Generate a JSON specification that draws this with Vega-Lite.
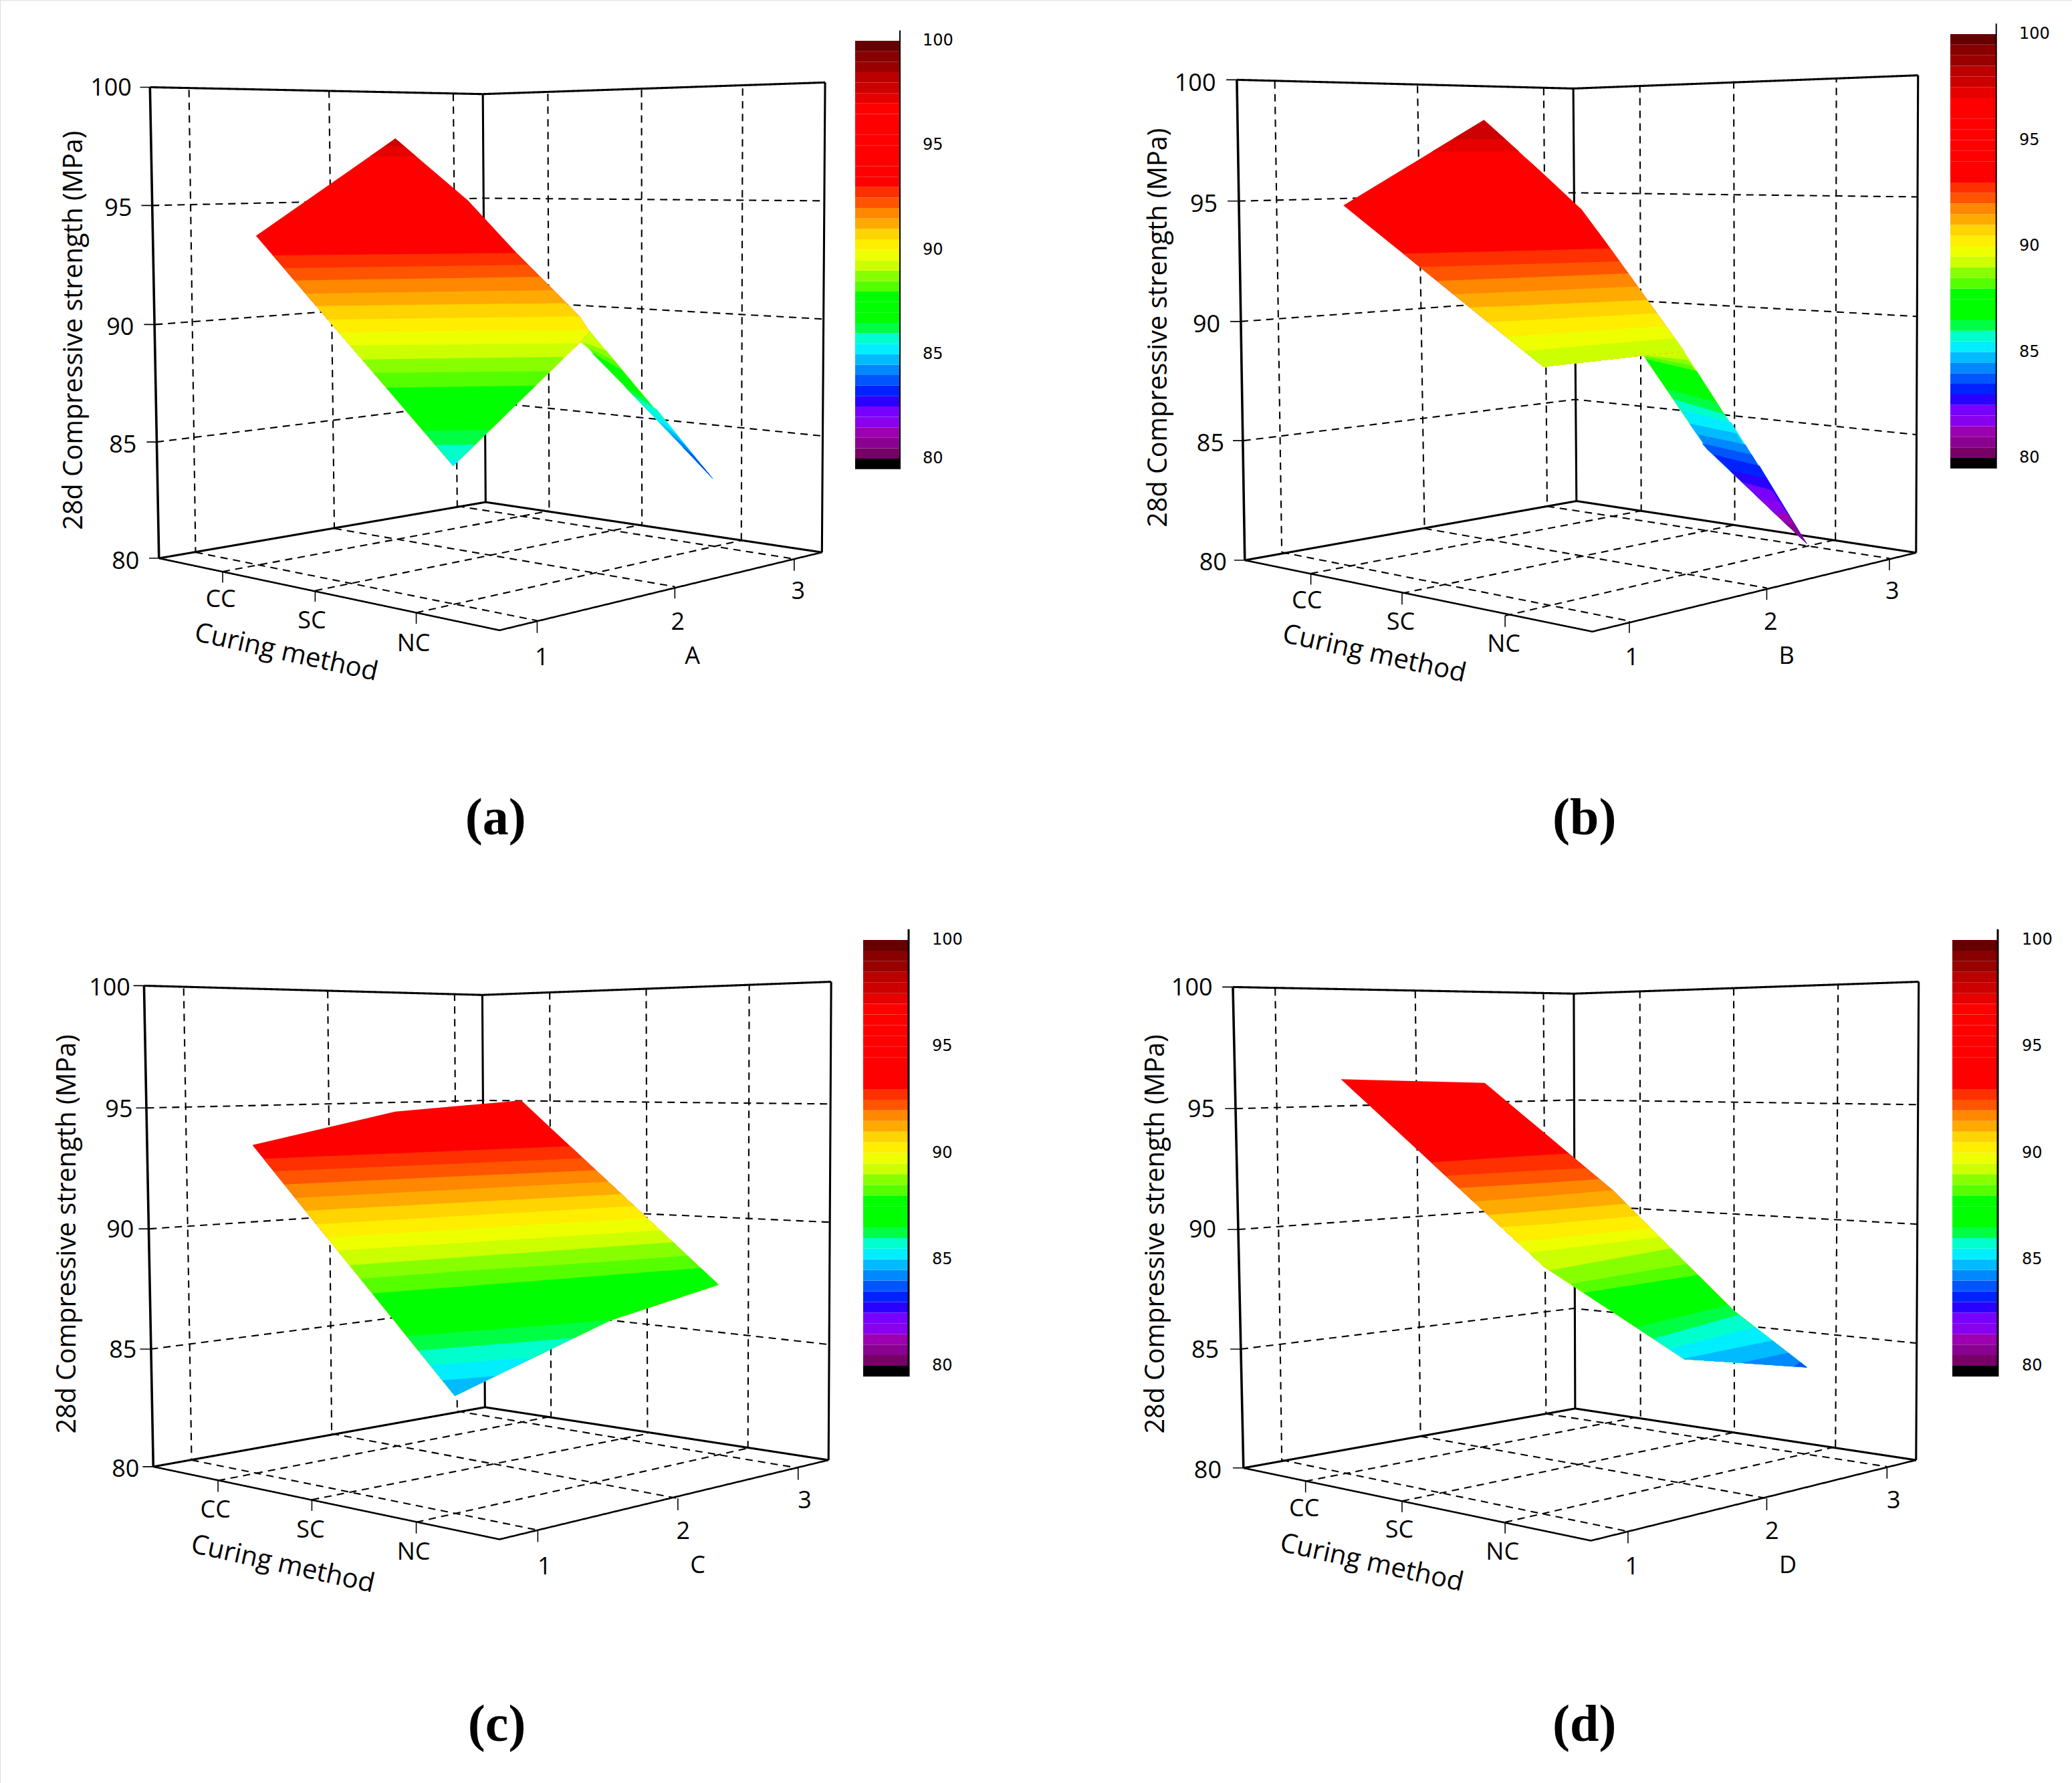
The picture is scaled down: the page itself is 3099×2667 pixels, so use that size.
{"$schema":"https://vega.github.io/schema/vega-lite/v6.json","width":3099,"height":2667,"padding":0,"autosize":{"type":"none"},"background":"white",
"datasets":{
"lines":[
{"g":"a1","k":"axis","x":113.5,"y":66},{"g":"a1","k":"axis","x":120.3,"y":422.5},
{"g":"a2","k":"edge","x":113.5,"y":66},{"g":"a2","k":"edge","x":365.4,"y":71.2},{"g":"a2","k":"edge","x":624.4,"y":62.4},
{"g":"a3","k":"edge","x":622,"y":418},{"g":"a3","k":"edge","x":624.4,"y":62.4},
{"g":"a4","k":"edge","x":365.4,"y":71.2},{"g":"a4","k":"edge","x":367.5,"y":380},
{"g":"a5","k":"edge","x":120.3,"y":422.5},{"g":"a5","k":"edge","x":367.5,"y":380},{"g":"a5","k":"edge","x":622,"y":418},
{"g":"a6","k":"front","x":120.3,"y":422.5},{"g":"a6","k":"front","x":378,"y":477},{"g":"a6","k":"front","x":622,"y":418},
{"g":"a7","k":"grid","x":143,"y":68},{"g":"a7","k":"grid","x":148,"y":418},
{"g":"a8","k":"grid","x":249,"y":68.5},{"g":"a8","k":"grid","x":253,"y":400},
{"g":"a9","k":"grid","x":343,"y":71},{"g":"a9","k":"grid","x":346,"y":383},
{"g":"a10","k":"grid","x":414.6,"y":71},{"g":"a10","k":"grid","x":415.6,"y":386.7},
{"g":"a11","k":"grid","x":485.5,"y":68},{"g":"a11","k":"grid","x":485.8,"y":397},
{"g":"a12","k":"grid","x":561,"y":409},{"g":"a12","k":"grid","x":562,"y":65},
{"g":"a13","k":"grid","x":115,"y":155.5},{"g":"a13","k":"grid","x":366,"y":150},{"g":"a13","k":"grid","x":624,"y":152},
{"g":"a14","k":"grid","x":117.5,"y":245.6},{"g":"a14","k":"grid","x":365.5,"y":227},{"g":"a14","k":"grid","x":623.5,"y":241.5},
{"g":"a15","k":"grid","x":118.5,"y":334.5},{"g":"a15","k":"grid","x":366,"y":304},{"g":"a15","k":"grid","x":623,"y":330},
{"g":"a16","k":"grid","x":168.5,"y":432.6},{"g":"a16","k":"grid","x":415.6,"y":386.7},
{"g":"a17","k":"grid","x":238.5,"y":447},{"g":"a17","k":"grid","x":485.8,"y":397},
{"g":"a18","k":"grid","x":315,"y":463.7},{"g":"a18","k":"grid","x":561,"y":409},
{"g":"a19","k":"grid","x":148,"y":418},{"g":"a19","k":"grid","x":406.5,"y":469.7},
{"g":"a20","k":"grid","x":253,"y":400},{"g":"a20","k":"grid","x":510.7,"y":444},
{"g":"a21","k":"grid","x":346,"y":383},{"g":"a21","k":"grid","x":601,"y":423},
{"g":"a22","k":"tick","x":106,"y":66},{"g":"a22","k":"tick","x":113.5,"y":66},
{"g":"a23","k":"tick","x":107,"y":155.5},{"g":"a23","k":"tick","x":115,"y":155.5},
{"g":"a24","k":"tick","x":109,"y":245.6},{"g":"a24","k":"tick","x":117.5,"y":245.6},
{"g":"a25","k":"tick","x":111,"y":334.5},{"g":"a25","k":"tick","x":118.5,"y":334.5},
{"g":"a26","k":"tick","x":112.8,"y":422.5},{"g":"a26","k":"tick","x":120.3,"y":422.5},
{"g":"a27","k":"tick","x":168.5,"y":432.6},{"g":"a27","k":"tick","x":168.5,"y":441},
{"g":"a28","k":"tick","x":238.5,"y":447},{"g":"a28","k":"tick","x":238.5,"y":455.4},
{"g":"a29","k":"tick","x":315,"y":463.7},{"g":"a29","k":"tick","x":315,"y":472},
{"g":"a30","k":"tick","x":406.5,"y":469.7},{"g":"a30","k":"tick","x":406.5,"y":479},
{"g":"a31","k":"tick","x":510.7,"y":444},{"g":"a31","k":"tick","x":510.7,"y":453},
{"g":"a32","k":"tick","x":601,"y":423},{"g":"a32","k":"tick","x":601,"y":432},
{"g":"b1","k":"axis","x":936,"y":60.4},{"g":"b1","k":"axis","x":942,"y":424},
{"g":"b2","k":"edge","x":936,"y":60.4},{"g":"b2","k":"edge","x":1190.6,"y":67},{"g":"b2","k":"edge","x":1451.5,"y":57},
{"g":"b3","k":"edge","x":1450,"y":418.3},{"g":"b3","k":"edge","x":1451.5,"y":57},
{"g":"b4","k":"edge","x":1190.6,"y":67},{"g":"b4","k":"edge","x":1193,"y":379.2},
{"g":"b5","k":"edge","x":942,"y":424},{"g":"b5","k":"edge","x":1193,"y":379.2},{"g":"b5","k":"edge","x":1450,"y":418.3},
{"g":"b6","k":"front","x":942,"y":424},{"g":"b6","k":"front","x":1205,"y":478},{"g":"b6","k":"front","x":1450,"y":418.3},
{"g":"b7","k":"grid","x":964.7,"y":61.6},{"g":"b7","k":"grid","x":970,"y":418},
{"g":"b8","k":"grid","x":1072.7,"y":65},{"g":"b8","k":"grid","x":1078,"y":400},
{"g":"b9","k":"grid","x":1168.2,"y":66.6},{"g":"b9","k":"grid","x":1170.8,"y":383.2},
{"g":"b10","k":"grid","x":1241,"y":64.5},{"g":"b10","k":"grid","x":1242,"y":386.6},
{"g":"b11","k":"grid","x":1312,"y":61.5},{"g":"b11","k":"grid","x":1312.8,"y":397.2},
{"g":"b12","k":"grid","x":1389,"y":408.5},{"g":"b12","k":"grid","x":1389.7,"y":59},
{"g":"b13","k":"grid","x":937,"y":152.2},{"g":"b13","k":"grid","x":1190.6,"y":145.9},{"g":"b13","k":"grid","x":1451,"y":149},
{"g":"b14","k":"grid","x":939,"y":243.3},{"g":"b14","k":"grid","x":1191,"y":225},{"g":"b14","k":"grid","x":1451,"y":239.5},
{"g":"b15","k":"grid","x":941,"y":333.5},{"g":"b15","k":"grid","x":1192,"y":302.3},{"g":"b15","k":"grid","x":1450.5,"y":329},
{"g":"b16","k":"grid","x":992,"y":434},{"g":"b16","k":"grid","x":1242,"y":386.6},
{"g":"b17","k":"grid","x":1061,"y":449},{"g":"b17","k":"grid","x":1312.8,"y":397.2},
{"g":"b18","k":"grid","x":1139,"y":466},{"g":"b18","k":"grid","x":1389,"y":408.5},
{"g":"b19","k":"grid","x":970,"y":418},{"g":"b19","k":"grid","x":1233,"y":470},
{"g":"b20","k":"grid","x":1078,"y":400},{"g":"b20","k":"grid","x":1337,"y":445},
{"g":"b21","k":"grid","x":1170.8,"y":383.2},{"g":"b21","k":"grid","x":1429.8,"y":422.6},
{"g":"b22","k":"tick","x":928,"y":60.4},{"g":"b22","k":"tick","x":936,"y":60.4},
{"g":"b23","k":"tick","x":929,"y":152.2},{"g":"b23","k":"tick","x":937,"y":152.2},
{"g":"b24","k":"tick","x":931,"y":243.3},{"g":"b24","k":"tick","x":939,"y":243.3},
{"g":"b25","k":"tick","x":933,"y":333.5},{"g":"b25","k":"tick","x":941,"y":333.5},
{"g":"b26","k":"tick","x":934,"y":424},{"g":"b26","k":"tick","x":942,"y":424},
{"g":"b27","k":"tick","x":992,"y":434},{"g":"b27","k":"tick","x":992,"y":442.5},
{"g":"b28","k":"tick","x":1061,"y":449},{"g":"b28","k":"tick","x":1061,"y":457.5},
{"g":"b29","k":"tick","x":1139,"y":466},{"g":"b29","k":"tick","x":1139,"y":474.5},
{"g":"b30","k":"tick","x":1233,"y":470},{"g":"b30","k":"tick","x":1233,"y":479},
{"g":"b31","k":"tick","x":1337,"y":445},{"g":"b31","k":"tick","x":1337,"y":454},
{"g":"b32","k":"tick","x":1429.8,"y":422.6},{"g":"b32","k":"tick","x":1429.8,"y":431.6},
{"g":"c1","k":"axis","x":109,"y":746},{"g":"c1","k":"axis","x":116,"y":1110},
{"g":"c2","k":"edge","x":109,"y":746},{"g":"c2","k":"edge","x":365,"y":753},{"g":"c2","k":"edge","x":629,"y":743},
{"g":"c3","k":"edge","x":627,"y":1105},{"g":"c3","k":"edge","x":629,"y":743},
{"g":"c4","k":"edge","x":365,"y":753},{"g":"c4","k":"edge","x":367,"y":1065},
{"g":"c5","k":"edge","x":116,"y":1110},{"g":"c5","k":"edge","x":367,"y":1065},{"g":"c5","k":"edge","x":627,"y":1105},
{"g":"c6","k":"front","x":116,"y":1110},{"g":"c6","k":"front","x":378,"y":1165},{"g":"c6","k":"front","x":627,"y":1105},
{"g":"c7","k":"grid","x":139,"y":748},{"g":"c7","k":"grid","x":145,"y":1105},
{"g":"c8","k":"grid","x":248,"y":750},{"g":"c8","k":"grid","x":251,"y":1085},
{"g":"c9","k":"grid","x":344,"y":752},{"g":"c9","k":"grid","x":346,"y":1068},
{"g":"c10","k":"grid","x":416,"y":751},{"g":"c10","k":"grid","x":417,"y":1072},
{"g":"c11","k":"grid","x":489,"y":748},{"g":"c11","k":"grid","x":490,"y":1085},
{"g":"c12","k":"grid","x":566,"y":1096},{"g":"c12","k":"grid","x":567,"y":746},
{"g":"c13","k":"grid","x":111,"y":838.5},{"g":"c13","k":"grid","x":366,"y":832.8},{"g":"c13","k":"grid","x":629,"y":835.5},
{"g":"c14","k":"grid","x":113,"y":930},{"g":"c14","k":"grid","x":366,"y":913},{"g":"c14","k":"grid","x":628,"y":925},
{"g":"c15","k":"grid","x":114,"y":1021},{"g":"c15","k":"grid","x":366,"y":988.5},{"g":"c15","k":"grid","x":627,"y":1017.5},
{"g":"c16","k":"grid","x":165,"y":1120.5},{"g":"c16","k":"grid","x":417,"y":1072},
{"g":"c17","k":"grid","x":236,"y":1135},{"g":"c17","k":"grid","x":490,"y":1085},
{"g":"c18","k":"grid","x":315,"y":1152},{"g":"c18","k":"grid","x":566,"y":1096},
{"g":"c19","k":"grid","x":145,"y":1105},{"g":"c19","k":"grid","x":407,"y":1158},
{"g":"c20","k":"grid","x":251,"y":1085},{"g":"c20","k":"grid","x":513,"y":1134},
{"g":"c21","k":"grid","x":346,"y":1068},{"g":"c21","k":"grid","x":604,"y":1111},
{"g":"c22","k":"tick","x":101,"y":746},{"g":"c22","k":"tick","x":109,"y":746},
{"g":"c23","k":"tick","x":103,"y":838.5},{"g":"c23","k":"tick","x":111,"y":838.5},
{"g":"c24","k":"tick","x":105,"y":930},{"g":"c24","k":"tick","x":113,"y":930},
{"g":"c25","k":"tick","x":106,"y":1021},{"g":"c25","k":"tick","x":114,"y":1021},
{"g":"c26","k":"tick","x":108,"y":1110},{"g":"c26","k":"tick","x":116,"y":1110},
{"g":"c27","k":"tick","x":165,"y":1120.5},{"g":"c27","k":"tick","x":165,"y":1129},
{"g":"c28","k":"tick","x":236,"y":1135},{"g":"c28","k":"tick","x":236,"y":1143.5},
{"g":"c29","k":"tick","x":315,"y":1152},{"g":"c29","k":"tick","x":315,"y":1160.5},
{"g":"c30","k":"tick","x":407,"y":1158},{"g":"c30","k":"tick","x":407,"y":1167},
{"g":"c31","k":"tick","x":513,"y":1134},{"g":"c31","k":"tick","x":513,"y":1143},
{"g":"c32","k":"tick","x":604,"y":1111},{"g":"c32","k":"tick","x":604,"y":1120},
{"g":"d1","k":"axis","x":933,"y":747},{"g":"d1","k":"axis","x":941,"y":1111},
{"g":"d2","k":"edge","x":933,"y":747},{"g":"d2","k":"edge","x":1191,"y":752},{"g":"d2","k":"edge","x":1452,"y":743},
{"g":"d3","k":"edge","x":1450,"y":1105},{"g":"d3","k":"edge","x":1452,"y":743},
{"g":"d4","k":"edge","x":1191,"y":752},{"g":"d4","k":"edge","x":1192,"y":1066},
{"g":"d5","k":"edge","x":941,"y":1111},{"g":"d5","k":"edge","x":1192,"y":1066},{"g":"d5","k":"edge","x":1450,"y":1105},
{"g":"d6","k":"front","x":941,"y":1111},{"g":"d6","k":"front","x":1204,"y":1166},{"g":"d6","k":"front","x":1450,"y":1105},
{"g":"d7","k":"grid","x":965,"y":748},{"g":"d7","k":"grid","x":970,"y":1105},
{"g":"d8","k":"grid","x":1071,"y":750},{"g":"d8","k":"grid","x":1075,"y":1087},
{"g":"d9","k":"grid","x":1168,"y":751},{"g":"d9","k":"grid","x":1170,"y":1070},
{"g":"d10","k":"grid","x":1241,"y":750},{"g":"d10","k":"grid","x":1241.5,"y":1072},
{"g":"d11","k":"grid","x":1312,"y":748},{"g":"d11","k":"grid","x":1312.5,"y":1084},
{"g":"d12","k":"grid","x":1389,"y":1095},{"g":"d12","k":"grid","x":1391,"y":745},
{"g":"d13","k":"grid","x":935,"y":839},{"g":"d13","k":"grid","x":1190.8,"y":832.5},{"g":"d13","k":"grid","x":1451.5,"y":836},
{"g":"d14","k":"grid","x":937,"y":930.5},{"g":"d14","k":"grid","x":1191,"y":912},{"g":"d14","k":"grid","x":1451,"y":926.5},
{"g":"d15","k":"grid","x":939,"y":1021},{"g":"d15","k":"grid","x":1190.8,"y":990.2},{"g":"d15","k":"grid","x":1450,"y":1016.5},
{"g":"d16","k":"grid","x":988,"y":1121},{"g":"d16","k":"grid","x":1241.5,"y":1072},
{"g":"d17","k":"grid","x":1061,"y":1136},{"g":"d17","k":"grid","x":1312.5,"y":1084},
{"g":"d18","k":"grid","x":1139,"y":1152},{"g":"d18","k":"grid","x":1389,"y":1095},
{"g":"d19","k":"grid","x":970,"y":1105},{"g":"d19","k":"grid","x":1232,"y":1159},
{"g":"d20","k":"grid","x":1075,"y":1087},{"g":"d20","k":"grid","x":1337,"y":1134},
{"g":"d21","k":"grid","x":1170,"y":1070},{"g":"d21","k":"grid","x":1428,"y":1110},
{"g":"d22","k":"tick","x":925,"y":747},{"g":"d22","k":"tick","x":933,"y":747},
{"g":"d23","k":"tick","x":927,"y":839},{"g":"d23","k":"tick","x":935,"y":839},
{"g":"d24","k":"tick","x":929,"y":930.5},{"g":"d24","k":"tick","x":937,"y":930.5},
{"g":"d25","k":"tick","x":931,"y":1021},{"g":"d25","k":"tick","x":939,"y":1021},
{"g":"d26","k":"tick","x":933,"y":1111},{"g":"d26","k":"tick","x":941,"y":1111},
{"g":"d27","k":"tick","x":988,"y":1121},{"g":"d27","k":"tick","x":988,"y":1129.5},
{"g":"d28","k":"tick","x":1061,"y":1136},{"g":"d28","k":"tick","x":1061,"y":1144.5},
{"g":"d29","k":"tick","x":1139,"y":1152},{"g":"d29","k":"tick","x":1139,"y":1160.5},
{"g":"d30","k":"tick","x":1232,"y":1159},{"g":"d30","k":"tick","x":1232,"y":1168},
{"g":"d31","k":"tick","x":1337,"y":1134},{"g":"d31","k":"tick","x":1337,"y":1143},
{"g":"d32","k":"tick","x":1428,"y":1110},{"g":"d32","k":"tick","x":1428,"y":1119}
],
"surface":[
{"b":"af19","level":89.5,"x":439,"y":259,"yb":259},{"b":"af19","level":89.5,"x":446,"y":250,"yb":264.3},{"b":"af19","level":89.5,"x":539.8,"y":362.6,"yb":362.6},
{"b":"af18","level":89,"x":441,"y":259,"yb":259},{"b":"af18","level":89,"x":458.8,"y":265.4,"yb":277.7},{"b":"af18","level":89,"x":539.8,"y":362.6,"yb":362.6},
{"b":"af17","level":88.5,"x":445,"y":263.3,"yb":263.3},{"b":"af17","level":88.5,"x":465,"y":273,"yb":284.2},{"b":"af17","level":88.5,"x":539.8,"y":362.6,"yb":362.6},
{"b":"af16","level":88,"x":447.2,"y":266.5,"yb":266.5},{"b":"af16","level":88,"x":470.5,"y":280,"yb":290},{"b":"af16","level":88,"x":539.8,"y":362.6,"yb":362.6},
{"b":"af13","level":86.5,"x":472.8,"y":293,"yb":293},{"b":"af13","level":86.5,"x":489,"y":301.6,"yb":309.4},{"b":"af13","level":86.5,"x":539.8,"y":362.6,"yb":362.6},
{"b":"af12","level":86,"x":479,"y":299,"yb":299},{"b":"af12","level":86,"x":497,"y":309.6,"yb":317.7},{"b":"af12","level":86,"x":539.8,"y":362.6,"yb":362.6},
{"b":"af11","level":85.5,"x":487,"y":307,"yb":307},{"b":"af11","level":85.5,"x":505,"y":320,"yb":326.1},{"b":"af11","level":85.5,"x":539.8,"y":362.6,"yb":362.6},
{"b":"af10","level":85,"x":498,"y":318.7,"yb":318.7},{"b":"af10","level":85,"x":511.5,"y":328.6,"yb":332.9},{"b":"af10","level":85,"x":539.8,"y":362.6,"yb":362.6},
{"b":"af9","level":84.5,"x":507,"y":328,"yb":328},{"b":"af9","level":84.5,"x":518,"y":336.4,"yb":339.7},{"b":"af9","level":84.5,"x":539.8,"y":362.6,"yb":362.6},
{"b":"af8","level":84,"x":516,"y":337.8,"yb":337.8},{"b":"af8","level":84,"x":524.5,"y":344,"yb":346.6},{"b":"af8","level":84,"x":539.8,"y":362.6,"yb":362.6},
{"b":"af7","level":83.5,"x":527,"y":349,"yb":349},{"b":"af7","level":83.5,"x":533,"y":354.5,"yb":355.5},{"b":"af7","level":83.5,"x":539.8,"y":362.6,"yb":362.6},
{"b":"a27","level":93.5,"x":193.7,"y":178.5,"yb":178.5},{"b":"a27","level":93.5,"x":299.2,"y":104.9,"yb":301.5},{"b":"a27","level":93.5,"x":343,"y":142.2,"yb":352.6},{"b":"a27","level":93.5,"x":354.25,"y":151.8,"yb":341.6},{"b":"a27","level":93.5,"x":391,"y":191.5,"yb":305.8},{"b":"a27","level":93.5,"x":439,"y":240,"yb":259},{"b":"a27","level":93.5,"x":446,"y":251,"yb":251},
{"b":"a26","level":93,"x":206.4,"y":193.3,"yb":193.3},{"b":"a26","level":93,"x":343,"y":192,"yb":352.6},{"b":"a26","level":93,"x":391,"y":191.5,"yb":305.8},{"b":"a26","level":93,"x":439,"y":240,"yb":259},{"b":"a26","level":93,"x":446,"y":251,"yb":251},
{"b":"a25","level":92.5,"x":214.6,"y":202.9,"yb":202.9},{"b":"a25","level":92.5,"x":343,"y":201.2,"yb":352.6},{"b":"a25","level":92.5,"x":399.8,"y":200.4,"yb":297.2},{"b":"a25","level":92.5,"x":439,"y":240,"yb":259},{"b":"a25","level":92.5,"x":446,"y":251,"yb":251},
{"b":"a24","level":92,"x":222.6,"y":212.2,"yb":212.2},{"b":"a24","level":92,"x":343,"y":210.5,"yb":352.6},{"b":"a24","level":92,"x":408.8,"y":209.5,"yb":288.4},{"b":"a24","level":92,"x":439,"y":240,"yb":259},{"b":"a24","level":92,"x":446,"y":251,"yb":251},
{"b":"a23","level":91.5,"x":231.2,"y":222.2,"yb":222.2},{"b":"a23","level":91.5,"x":343,"y":220.6,"yb":352.6},{"b":"a23","level":91.5,"x":418.8,"y":219.6,"yb":278.7},{"b":"a23","level":91.5,"x":439,"y":240,"yb":259},{"b":"a23","level":91.5,"x":446,"y":251,"yb":251},
{"b":"a22","level":91,"x":239.2,"y":231.6,"yb":231.6},{"b":"a22","level":91,"x":343,"y":230.4,"yb":352.6},{"b":"a22","level":91,"x":428.5,"y":229.4,"yb":269.2},{"b":"a22","level":91,"x":439,"y":240,"yb":259},{"b":"a22","level":91,"x":446,"y":251,"yb":251},
{"b":"a21","level":90.5,"x":248,"y":241.8,"yb":241.8},{"b":"a21","level":90.5,"x":343,"y":240.6,"yb":352.6},{"b":"a21","level":90.5,"x":438.5,"y":239.5,"yb":259.5},{"b":"a21","level":90.5,"x":446,"y":251,"yb":251},
{"b":"a20","level":90,"x":256.5,"y":251.7,"yb":251.7},{"b":"a20","level":90,"x":343,"y":250.6,"yb":352.6},{"b":"a20","level":90,"x":439,"y":249.9,"yb":259},{"b":"a20","level":90,"x":445.3,"y":249.9,"yb":252},{"b":"a20","level":90,"x":446,"y":251,"yb":251},
{"b":"a19","level":89.5,"x":264.9,"y":261.5,"yb":261.5},{"b":"a19","level":89.5,"x":343,"y":260.7,"yb":352.6},{"b":"a19","level":89.5,"x":436.6,"y":259.8,"yb":261.3},
{"b":"a18","level":89,"x":274,"y":272.1,"yb":272.1},{"b":"a18","level":89,"x":343,"y":271.1,"yb":352.6},{"b":"a18","level":89,"x":426,"y":270,"yb":271.7},
{"b":"a17","level":88.5,"x":282.6,"y":282.2,"yb":282.2},{"b":"a17","level":88.5,"x":343,"y":281.6,"yb":352.6},{"b":"a17","level":88.5,"x":416.5,"y":280.9,"yb":280.9},
{"b":"a16","level":88,"x":292.3,"y":293.5,"yb":293.5},{"b":"a16","level":88,"x":343,"y":292.7,"yb":352.6},{"b":"a16","level":88,"x":405.4,"y":291.8,"yb":291.8},
{"b":"a13","level":86.5,"x":320.2,"y":326,"yb":326},{"b":"a13","level":86.5,"x":343,"y":325.7,"yb":352.6},{"b":"a13","level":86.5,"x":370.8,"y":325.5,"yb":325.5},
{"b":"a12","level":86,"x":329.6,"y":336.9,"yb":336.9},{"b":"a12","level":86,"x":343,"y":336.7,"yb":352.6},{"b":"a12","level":86,"x":359.5,"y":336.5,"yb":336.5},
{"b":"a11","level":85.5,"x":339,"y":348,"yb":348},{"b":"a11","level":85.5,"x":343,"y":348,"yb":352.6},{"b":"a11","level":85.5,"x":347.7,"y":348,"yb":348},
{"b":"a35","level":97.5,"x":279.9,"y":118.4,"yb":118.4},{"b":"a35","level":97.5,"x":299.2,"y":104.9,"yb":118.4},{"b":"a35","level":97.5,"x":315,"y":118.4,"yb":118.4},
{"b":"a36","level":98,"x":291.2,"y":110.5,"yb":110.5},{"b":"a36","level":98,"x":299.2,"y":104.9,"yb":110.5},{"b":"a36","level":98,"x":305.8,"y":110.5,"yb":110.5},
{"b":"br19","level":89.5,"x":1243.4,"y":266,"yb":268.7},{"b":"br19","level":89.5,"x":1274.4,"y":265.7,"yb":314.3},{"b":"br19","level":89.5,"x":1291.8,"y":293,"yb":339.9},{"b":"br19","level":89.5,"x":1367.4,"y":411.6,"yb":411.6},
{"b":"br18","level":89,"x":1243.4,"y":268.7,"yb":268.7},{"b":"br18","level":89,"x":1277.3,"y":272.4,"yb":318.6},{"b":"br18","level":89,"x":1291.8,"y":293,"yb":339.9},{"b":"br18","level":89,"x":1367.4,"y":411.6,"yb":411.6},
{"b":"br17","level":88.5,"x":1244,"y":269.6,"yb":269.6},{"b":"br17","level":88.5,"x":1280.2,"y":276.6,"yb":322.8},{"b":"br17","level":88.5,"x":1291.8,"y":293,"yb":339.9},{"b":"br17","level":88.5,"x":1367.4,"y":411.6,"yb":411.6},
{"b":"br16","level":88,"x":1245.4,"y":271.7,"yb":271.7},{"b":"br16","level":88,"x":1284.1,"y":280.8,"yb":328.4},{"b":"br16","level":88,"x":1291.8,"y":293,"yb":339.9},{"b":"br16","level":88,"x":1367.4,"y":411.6,"yb":411.6},
{"b":"br13","level":86.5,"x":1260.9,"y":294.3,"yb":294.3},{"b":"br13","level":86.5,"x":1291.8,"y":302.7,"yb":339.9},{"b":"br13","level":86.5,"x":1298.6,"y":304.5,"yb":346.3},{"b":"br13","level":86.5,"x":1367.4,"y":411.6,"yb":411.6},
{"b":"br12","level":86,"x":1266.3,"y":301.9,"yb":301.9},{"b":"br12","level":86,"x":1291.8,"y":309.6,"yb":339.9},{"b":"br12","level":86,"x":1305.4,"y":313.7,"yb":352.8},{"b":"br12","level":86,"x":1367.4,"y":411.6,"yb":411.6},
{"b":"br11","level":85.5,"x":1272.5,"y":310.4,"yb":310.4},{"b":"br11","level":85.5,"x":1291.8,"y":315.1,"yb":339.9},{"b":"br11","level":85.5,"x":1310.2,"y":319.6,"yb":357.3},{"b":"br11","level":85.5,"x":1367.4,"y":411.6,"yb":411.6},
{"b":"br10","level":85,"x":1278.3,"y":320.5,"yb":320.5},{"b":"br10","level":85,"x":1291.8,"y":323.3,"yb":339.9},{"b":"br10","level":85,"x":1314.1,"y":328,"yb":361},{"b":"br10","level":85,"x":1367.4,"y":411.6,"yb":411.6},
{"b":"br9","level":84.5,"x":1285.1,"y":328.9,"yb":328.9},{"b":"br9","level":84.5,"x":1291.8,"y":330.3,"yb":339.9},{"b":"br9","level":84.5,"x":1320.9,"y":336.5,"yb":367.5},{"b":"br9","level":84.5,"x":1367.4,"y":411.6,"yb":411.6},
{"b":"br8","level":84,"x":1288,"y":335.7,"yb":335.7},{"b":"br8","level":84,"x":1291.8,"y":336.5,"yb":339.9},{"b":"br8","level":84,"x":1325.7,"y":344.1,"yb":372},{"b":"br8","level":84,"x":1367.4,"y":411.6,"yb":411.6},
{"b":"br7","level":83.5,"x":1296.7,"y":344.1,"yb":344.1},{"b":"br7","level":83.5,"x":1331.6,"y":352.5,"yb":377.6},{"b":"br7","level":83.5,"x":1367.4,"y":411.6,"yb":411.6},
{"b":"br6","level":83,"x":1309.3,"y":356.5,"yb":356.5},{"b":"br6","level":83,"x":1336.4,"y":361.8,"yb":382.1},{"b":"br6","level":83,"x":1367.4,"y":411.6,"yb":411.6},
{"b":"br5","level":82.5,"x":1318,"y":364.7,"yb":364.7},{"b":"br5","level":82.5,"x":1341.2,"y":371.1,"yb":387},{"b":"br5","level":82.5,"x":1367.4,"y":411.6,"yb":411.6},
{"b":"br4","level":82,"x":1330,"y":376,"yb":376},{"b":"br4","level":82,"x":1347,"y":380,"yb":392.3},{"b":"br4","level":82,"x":1367.4,"y":411.6,"yb":411.6},
{"b":"br3","level":81.5,"x":1343.2,"y":388.6,"yb":388.6},{"b":"br3","level":81.5,"x":1352.9,"y":388.8,"yb":397.8},{"b":"br3","level":81.5,"x":1367.4,"y":411.6,"yb":411.6},
{"b":"br2","level":81,"x":1350.9,"y":395.9,"yb":395.9},{"b":"br2","level":81,"x":1357.7,"y":396.6,"yb":402.3},{"b":"br2","level":81,"x":1367.4,"y":411.6,"yb":411.6},
{"b":"b27","level":93.5,"x":1016.6,"y":155.5,"yb":155.5},{"b":"b27","level":93.5,"x":1123,"y":90.8,"yb":241.4},{"b":"b27","level":93.5,"x":1168,"y":131.5,"yb":277.7},{"b":"b27","level":93.5,"x":1197,"y":158.6,"yb":274.4},{"b":"b27","level":93.5,"x":1214.5,"y":182.2,"yb":272.4},{"b":"b27","level":93.5,"x":1274.4,"y":265.7,"yb":265.7},
{"b":"b26","level":93,"x":1061.8,"y":192,"yb":192},{"b":"b26","level":93,"x":1168,"y":189.4,"yb":277.7},{"b":"b26","level":93,"x":1218.7,"y":188,"yb":272},{"b":"b26","level":93,"x":1274.4,"y":265.7,"yb":265.7},
{"b":"b25","level":92.5,"x":1074.3,"y":202.1,"yb":202.1},{"b":"b25","level":92.5,"x":1168,"y":199.5,"yb":277.7},{"b":"b25","level":92.5,"x":1225.7,"y":197.8,"yb":271.2},{"b":"b25","level":92.5,"x":1274.4,"y":265.7,"yb":265.7},
{"b":"b24","level":92,"x":1087.4,"y":212.6,"yb":212.6},{"b":"b24","level":92,"x":1168,"y":209.5,"yb":277.7},{"b":"b24","level":92,"x":1232.3,"y":207,"yb":270.4},{"b":"b24","level":92,"x":1274.4,"y":265.7,"yb":265.7},
{"b":"b23","level":91.5,"x":1099.9,"y":222.7,"yb":222.7},{"b":"b23","level":91.5,"x":1168,"y":219.9,"yb":277.7},{"b":"b23","level":91.5,"x":1239.3,"y":216.8,"yb":269.6},{"b":"b23","level":91.5,"x":1274.4,"y":265.7,"yb":265.7},
{"b":"b22","level":91,"x":1112.4,"y":232.8,"yb":232.8},{"b":"b22","level":91,"x":1168,"y":230.5,"yb":277.7},{"b":"b22","level":91,"x":1246.6,"y":227,"yb":268.8},{"b":"b22","level":91,"x":1274.4,"y":265.7,"yb":265.7},
{"b":"b21","level":90.5,"x":1126,"y":243.8,"yb":243.8},{"b":"b21","level":90.5,"x":1168,"y":241.7,"yb":277.7},{"b":"b21","level":90.5,"x":1253.8,"y":237,"yb":268},{"b":"b21","level":90.5,"x":1274.4,"y":265.7,"yb":265.7},
{"b":"b20","level":90,"x":1139.5,"y":254.7,"yb":254.7},{"b":"b20","level":90,"x":1168,"y":253,"yb":277.7},{"b":"b20","level":90,"x":1260.7,"y":246.6,"yb":267.2},{"b":"b20","level":90,"x":1274.4,"y":265.7,"yb":265.7},
{"b":"b19","level":89.5,"x":1153.2,"y":265.7,"yb":265.7},{"b":"b19","level":89.5,"x":1168,"y":264.5,"yb":277.7},{"b":"b19","level":89.5,"x":1267.4,"y":255.9,"yb":266.5},{"b":"b19","level":89.5,"x":1274.4,"y":265.7,"yb":265.7},
{"b":"b35","level":97.5,"x":1083.7,"y":114.7,"yb":114.7},{"b":"b35","level":97.5,"x":1123,"y":90.8,"yb":114.7},{"b":"b35","level":97.5,"x":1149.7,"y":114.7,"yb":114.7},
{"b":"b36","level":98,"x":1099,"y":105.4,"yb":105.4},{"b":"b36","level":98,"x":1123,"y":90.8,"yb":105.4},{"b":"b36","level":98,"x":1139.3,"y":105.4,"yb":105.4},
{"b":"c27","level":93.5,"x":191,"y":866.6,"yb":866.6},{"b":"c27","level":93.5,"x":299,"y":841.3,"yb":1000.4},{"b":"c27","level":93.5,"x":344.2,"y":837.3,"yb":1056.4},{"b":"c27","level":93.5,"x":394.5,"y":832.8,"yb":1032},{"b":"c27","level":93.5,"x":461.6,"y":895.5,"yb":999.4},{"b":"c27","level":93.5,"x":543.8,"y":972.3,"yb":972.3},
{"b":"c26","level":93,"x":199.3,"y":876.9,"yb":876.9},{"b":"c26","level":93,"x":344.2,"y":871,"yb":1056.4},{"b":"c26","level":93,"x":431.7,"y":867.5,"yb":1013.9},{"b":"c26","level":93,"x":461.6,"y":895.5,"yb":999.4},{"b":"c26","level":93,"x":543.8,"y":972.3,"yb":972.3},
{"b":"c25","level":92.5,"x":207.1,"y":886.5,"yb":886.5},{"b":"c25","level":92.5,"x":344.2,"y":880.7,"yb":1056.4},{"b":"c25","level":92.5,"x":441.4,"y":876.6,"yb":1009.2},{"b":"c25","level":92.5,"x":461.6,"y":895.5,"yb":999.4},{"b":"c25","level":92.5,"x":543.8,"y":972.3,"yb":972.3},
{"b":"c24","level":92,"x":215,"y":896.4,"yb":896.4},{"b":"c24","level":92,"x":344.2,"y":890.4,"yb":1056.4},{"b":"c24","level":92,"x":451,"y":885.6,"yb":1004.6},{"b":"c24","level":92,"x":461.6,"y":895.5,"yb":999.4},{"b":"c24","level":92,"x":543.8,"y":972.3,"yb":972.3},
{"b":"c23","level":91.5,"x":223.4,"y":906.7,"yb":906.7},{"b":"c23","level":91.5,"x":344.2,"y":900.4,"yb":1056.4},{"b":"c23","level":91.5,"x":460.3,"y":894.3,"yb":1000},{"b":"c23","level":91.5,"x":461.6,"y":895.5,"yb":999.4},{"b":"c23","level":91.5,"x":543.8,"y":972.3,"yb":972.3},
{"b":"c22","level":91,"x":231.1,"y":916.3,"yb":916.3},{"b":"c22","level":91,"x":344.2,"y":910.3,"yb":1056.4},{"b":"c22","level":91,"x":461.6,"y":904.2,"yb":999.4},{"b":"c22","level":91,"x":470.4,"y":903.7,"yb":996.5},{"b":"c22","level":91,"x":543.8,"y":972.3,"yb":972.3},
{"b":"c21","level":90.5,"x":239.4,"y":926.6,"yb":926.6},{"b":"c21","level":90.5,"x":344.2,"y":920.5,"yb":1056.4},{"b":"c21","level":90.5,"x":461.6,"y":913.8,"yb":999.4},{"b":"c21","level":90.5,"x":480,"y":912.7,"yb":993.3},{"b":"c21","level":90.5,"x":543.8,"y":972.3,"yb":972.3},
{"b":"c20","level":90,"x":247.5,"y":936.6,"yb":936.6},{"b":"c20","level":90,"x":344.2,"y":930.6,"yb":1056.4},{"b":"c20","level":90,"x":461.6,"y":923.5,"yb":999.4},{"b":"c20","level":90,"x":489.7,"y":921.7,"yb":990.1},{"b":"c20","level":90,"x":543.8,"y":972.3,"yb":972.3},
{"b":"c19","level":89.5,"x":255.5,"y":946.5,"yb":946.5},{"b":"c19","level":89.5,"x":344.2,"y":940.9,"yb":1056.4},{"b":"c19","level":89.5,"x":461.6,"y":933.5,"yb":999.4},{"b":"c19","level":89.5,"x":499.7,"y":931.1,"yb":986.8},{"b":"c19","level":89.5,"x":543.8,"y":972.3,"yb":972.3},
{"b":"c18","level":89,"x":264.4,"y":957.5,"yb":957.5},{"b":"c18","level":89,"x":344.2,"y":951.8,"yb":1056.4},{"b":"c18","level":89,"x":461.6,"y":943.5,"yb":999.4},{"b":"c18","level":89,"x":509.5,"y":940.2,"yb":983.6},{"b":"c18","level":89,"x":543.8,"y":972.3,"yb":972.3},
{"b":"c17","level":88.5,"x":272.7,"y":967.8,"yb":967.8},{"b":"c17","level":88.5,"x":344.2,"y":962.4,"yb":1056.4},{"b":"c17","level":88.5,"x":461.6,"y":954.6,"yb":999.4},{"b":"c17","level":88.5,"x":520.3,"y":950.3,"yb":980},{"b":"c17","level":88.5,"x":543.8,"y":972.3,"yb":972.3},
{"b":"c16","level":88,"x":281.6,"y":978.8,"yb":978.8},{"b":"c16","level":88,"x":344.2,"y":974.1,"yb":1056.4},{"b":"c16","level":88,"x":461.6,"y":965,"yb":999.4},{"b":"c16","level":88,"x":530.4,"y":959.7,"yb":976.7},{"b":"c16","level":88,"x":543.8,"y":972.3,"yb":972.3},
{"b":"c13","level":86.5,"x":307.7,"y":1011.2,"yb":1011.2},{"b":"c13","level":86.5,"x":344.2,"y":1008.4,"yb":1056.4},{"b":"c13","level":86.5,"x":461.6,"y":999.2,"yb":999.4},
{"b":"c12","level":86,"x":316.4,"y":1022,"yb":1022},{"b":"c12","level":86,"x":344.2,"y":1019.8,"yb":1056.4},{"b":"c12","level":86,"x":434.6,"y":1012.5,"yb":1012.5},
{"b":"c11","level":85.5,"x":325.6,"y":1033.4,"yb":1033.4},{"b":"c11","level":85.5,"x":344.2,"y":1031.8,"yb":1056.4},{"b":"c11","level":85.5,"x":403.9,"y":1027.4,"yb":1027.4},
{"b":"c10","level":85,"x":334.7,"y":1044.6,"yb":1044.6},{"b":"c10","level":85,"x":344.2,"y":1043.9,"yb":1056.4},{"b":"c10","level":85,"x":375.1,"y":1041.4,"yb":1041.4},
{"b":"d27","level":93.5,"x":1014.7,"y":816.8,"yb":816.8},{"b":"d27","level":93.5,"x":1123.6,"y":819.5,"yb":917.3},{"b":"d27","level":93.5,"x":1168.8,"y":857.4,"yb":959},{"b":"d27","level":93.5,"x":1220.5,"y":900.8,"yb":993},{"b":"d27","level":93.5,"x":1274.7,"y":954.7,"yb":1028.7},{"b":"d27","level":93.5,"x":1312.1,"y":991.9,"yb":1031.2},{"b":"d27","level":93.5,"x":1367.6,"y":1034.9,"yb":1034.9},
{"b":"d26","level":93,"x":1082.8,"y":879.7,"yb":879.7},{"b":"d26","level":93,"x":1168.8,"y":874,"yb":959},{"b":"d26","level":93,"x":1187.4,"y":873,"yb":971.2},{"b":"d26","level":93,"x":1220.5,"y":900.8,"yb":993},{"b":"d26","level":93,"x":1274.7,"y":954.7,"yb":1028.7},{"b":"d26","level":93,"x":1312.1,"y":991.9,"yb":1031.2},{"b":"d26","level":93,"x":1367.6,"y":1034.9,"yb":1034.9},
{"b":"d25","level":92.5,"x":1093.9,"y":889.9,"yb":889.9},{"b":"d25","level":92.5,"x":1168.8,"y":885.6,"yb":959},{"b":"d25","level":92.5,"x":1200.5,"y":884,"yb":979.9},{"b":"d25","level":92.5,"x":1220.5,"y":900.8,"yb":993},{"b":"d25","level":92.5,"x":1274.7,"y":954.7,"yb":1028.7},{"b":"d25","level":92.5,"x":1312.1,"y":991.9,"yb":1031.2},{"b":"d25","level":92.5,"x":1367.6,"y":1034.9,"yb":1034.9},
{"b":"d24","level":92,"x":1103.9,"y":899.1,"yb":899.1},{"b":"d24","level":92,"x":1168.8,"y":895.2,"yb":959},{"b":"d24","level":92,"x":1210.5,"y":892.4,"yb":986.4},{"b":"d24","level":92,"x":1220.5,"y":900.8,"yb":993},{"b":"d24","level":92,"x":1274.7,"y":954.7,"yb":1028.7},{"b":"d24","level":92,"x":1312.1,"y":991.9,"yb":1031.2},{"b":"d24","level":92,"x":1367.6,"y":1034.9,"yb":1034.9},
{"b":"d23","level":91.5,"x":1114.9,"y":909.3,"yb":909.3},{"b":"d23","level":91.5,"x":1168.8,"y":905.3,"yb":959},{"b":"d23","level":91.5,"x":1220.5,"y":900.8,"yb":993},{"b":"d23","level":91.5,"x":1274.7,"y":954.7,"yb":1028.7},{"b":"d23","level":91.5,"x":1312.1,"y":991.9,"yb":1031.2},{"b":"d23","level":91.5,"x":1367.6,"y":1034.9,"yb":1034.9},
{"b":"d22","level":91,"x":1125.9,"y":919.4,"yb":919.4},{"b":"d22","level":91,"x":1168.8,"y":916.2,"yb":959},{"b":"d22","level":91,"x":1230.8,"y":911,"yb":999.8},{"b":"d22","level":91,"x":1274.7,"y":954.7,"yb":1028.7},{"b":"d22","level":91,"x":1312.1,"y":991.9,"yb":1031.2},{"b":"d22","level":91,"x":1367.6,"y":1034.9,"yb":1034.9},
{"b":"d21","level":90.5,"x":1135.9,"y":928.7,"yb":928.7},{"b":"d21","level":90.5,"x":1168.8,"y":926.5,"yb":959},{"b":"d21","level":90.5,"x":1240,"y":920.2,"yb":1005.8},{"b":"d21","level":90.5,"x":1274.7,"y":954.7,"yb":1028.7},{"b":"d21","level":90.5,"x":1312.1,"y":991.9,"yb":1031.2},{"b":"d21","level":90.5,"x":1367.6,"y":1034.9,"yb":1034.9},
{"b":"d20","level":90,"x":1147.7,"y":939.6,"yb":939.6},{"b":"d20","level":90,"x":1168.8,"y":937.8,"yb":959},{"b":"d20","level":90,"x":1249.3,"y":929.5,"yb":1012},{"b":"d20","level":90,"x":1274.7,"y":954.7,"yb":1028.7},{"b":"d20","level":90,"x":1312.1,"y":991.9,"yb":1031.2},{"b":"d20","level":90,"x":1367.6,"y":1034.9,"yb":1034.9},
{"b":"d19","level":89.5,"x":1156.8,"y":948,"yb":948},{"b":"d19","level":89.5,"x":1168.8,"y":946.7,"yb":959},{"b":"d19","level":89.5,"x":1256.1,"y":936.2,"yb":1016.4},{"b":"d19","level":89.5,"x":1274.7,"y":954.7,"yb":1028.7},{"b":"d19","level":89.5,"x":1312.1,"y":991.9,"yb":1031.2},{"b":"d19","level":89.5,"x":1367.6,"y":1034.9,"yb":1034.9},
{"b":"d18","level":89,"x":1172.6,"y":961.5,"yb":961.5},{"b":"d18","level":89,"x":1264.6,"y":944.7,"yb":1022},{"b":"d18","level":89,"x":1274.7,"y":954.7,"yb":1028.7},{"b":"d18","level":89,"x":1312.1,"y":991.9,"yb":1031.2},{"b":"d18","level":89,"x":1367.6,"y":1034.9,"yb":1034.9},
{"b":"d17","level":88.5,"x":1188.1,"y":971.7,"yb":971.7},{"b":"d17","level":88.5,"x":1274.7,"y":956.8,"yb":1028.7},{"b":"d17","level":88.5,"x":1276.5,"y":956.5,"yb":1028.8},{"b":"d17","level":88.5,"x":1312.1,"y":991.9,"yb":1031.2},{"b":"d17","level":88.5,"x":1367.6,"y":1034.9,"yb":1034.9},
{"b":"d16","level":88,"x":1198.3,"y":978.4,"yb":978.4},{"b":"d16","level":88,"x":1274.7,"y":966.5,"yb":1028.7},{"b":"d16","level":88,"x":1284.9,"y":964.9,"yb":1029.4},{"b":"d16","level":88,"x":1312.1,"y":991.9,"yb":1031.2},{"b":"d16","level":88,"x":1367.6,"y":1034.9,"yb":1034.9},
{"b":"d13","level":86.5,"x":1238.1,"y":1004.6,"yb":1004.6},{"b":"d13","level":86.5,"x":1274.7,"y":995.7,"yb":1028.7},{"b":"d13","level":86.5,"x":1307.8,"y":987.7,"yb":1030.9},{"b":"d13","level":86.5,"x":1312.1,"y":991.9,"yb":1031.2},{"b":"d13","level":86.5,"x":1367.6,"y":1034.9,"yb":1034.9},
{"b":"d12","level":86,"x":1250.9,"y":1013,"yb":1013},{"b":"d12","level":86,"x":1274.7,"y":1006.5,"yb":1028.7},{"b":"d12","level":86,"x":1316.1,"y":995,"yb":1031.5},{"b":"d12","level":86,"x":1367.6,"y":1034.9,"yb":1034.9},
{"b":"d11","level":85.5,"x":1262.4,"y":1020.6,"yb":1020.6},{"b":"d11","level":85.5,"x":1274.7,"y":1017.9,"yb":1028.7},{"b":"d11","level":85.5,"x":1328.4,"y":1004.5,"yb":1032.3},{"b":"d11","level":85.5,"x":1367.6,"y":1034.9,"yb":1034.9},
{"b":"d10","level":85,"x":1274,"y":1028.2,"yb":1028.6},{"b":"d10","level":85,"x":1341.3,"y":1014.5,"yb":1033.1},{"b":"d10","level":85,"x":1367.6,"y":1034.9,"yb":1034.9},
{"b":"d9","level":84.5,"x":1317,"y":1031.5,"yb":1031.5},{"b":"d9","level":84.5,"x":1353.3,"y":1023.8,"yb":1034},{"b":"d9","level":84.5,"x":1367.6,"y":1034.9,"yb":1034.9},
{"b":"d8","level":84,"x":1358,"y":1034.2,"yb":1034.2},{"b":"d8","level":84,"x":1362.2,"y":1030.7,"yb":1034.5},{"b":"d8","level":84,"x":1367.6,"y":1034.9,"yb":1034.9}
],
"ticktext":[
{"t":"100","x":84,"y":67},{"t":"95","x":89.5,"y":158},{"t":"90","x":91,"y":248},{"t":"85","x":93,"y":337},{"t":"80","x":95,"y":425},
{"t":"CC","x":167,"y":454},{"t":"SC","x":236,"y":470},{"t":"NC","x":313,"y":487},{"t":"1","x":410,"y":498},{"t":"2","x":513,"y":471},{"t":"3","x":604,"y":448},{"t":"A","x":524,"y":497},
{"t":"100","x":904.5,"y":63},{"t":"95","x":911,"y":155},{"t":"90","x":913,"y":246},{"t":"85","x":916,"y":336},{"t":"80","x":918,"y":426},
{"t":"CC","x":989,"y":455},{"t":"SC","x":1060,"y":471},{"t":"NC","x":1138,"y":488},{"t":"1","x":1235,"y":498},{"t":"2","x":1340,"y":471},{"t":"3","x":1432,"y":448},{"t":"B","x":1352,"y":497},
{"t":"100","x":83,"y":748},{"t":"95","x":90,"y":840},{"t":"90","x":91,"y":931},{"t":"85","x":93,"y":1022},{"t":"80","x":95,"y":1112},
{"t":"CC","x":163,"y":1143},{"t":"SC","x":235,"y":1158},{"t":"NC","x":313,"y":1175},{"t":"1","x":412,"y":1186},{"t":"2","x":517,"y":1159},{"t":"3","x":609,"y":1136},{"t":"C","x":528,"y":1185},
{"t":"100","x":902,"y":748},{"t":"95","x":909,"y":840},{"t":"90","x":910,"y":931},{"t":"85","x":912,"y":1022},{"t":"80","x":914,"y":1113},
{"t":"CC","x":987,"y":1142},{"t":"SC","x":1059,"y":1158},{"t":"NC","x":1137,"y":1175},{"t":"1","x":1235,"y":1186},{"t":"2","x":1341,"y":1159},{"t":"3","x":1433,"y":1136},{"t":"D","x":1353,"y":1185}
],
"ztitles":[{"t":"28d Compressive strength (MPa)","x":56,"y":250},{"t":"28d Compressive strength (MPa)","x":877,"y":248},{"t":"28d Compressive strength (MPa)","x":51,"y":934},{"t":"28d Compressive strength (MPa)","x":875,"y":934}],
"xtitles":[{"t":"Curing method","x":216.6,"y":494},{"t":"Curing method","x":1040,"y":495},{"t":"Curing method","x":214,"y":1184},{"t":"Curing method","x":1038,"y":1183}],
"captions":[{"t":"(a)","x":375,"y":620},{"t":"(b)","x":1199,"y":620},{"t":"(c)","x":376,"y":1306},{"t":"(d)","x":1199,"y":1306}],
"levels":[{"level":80,"lo":79.5},{"level":80.5,"lo":80},{"level":81,"lo":80.5},{"level":81.5,"lo":81},{"level":82,"lo":81.5},{"level":82.5,"lo":82},{"level":83,"lo":82.5},{"level":83.5,"lo":83},{"level":84,"lo":83.5},{"level":84.5,"lo":84},{"level":85,"lo":84.5},{"level":85.5,"lo":85},{"level":86,"lo":85.5},{"level":86.5,"lo":86},{"level":87,"lo":86.5},{"level":87.5,"lo":87},{"level":88,"lo":87.5},{"level":88.5,"lo":88},{"level":89,"lo":88.5},{"level":89.5,"lo":89},{"level":90,"lo":89.5},{"level":90.5,"lo":90},{"level":91,"lo":90.5},{"level":91.5,"lo":91},{"level":92,"lo":91.5},{"level":92.5,"lo":92},{"level":93,"lo":92.5},{"level":93.5,"lo":93},{"level":94,"lo":93.5},{"level":94.5,"lo":94},{"level":95,"lo":94.5},{"level":95.5,"lo":95},{"level":96,"lo":95.5},{"level":96.5,"lo":96},{"level":97,"lo":96.5},{"level":97.5,"lo":97},{"level":98,"lo":97.5},{"level":98.5,"lo":98},{"level":99,"lo":98.5},{"level":99.5,"lo":99},{"level":100,"lo":99.5}],
"barticks":[{"v":80},{"v":85},{"v":90},{"v":95},{"v":100}],
"barspine":[{"a":79.5,"b":100.5}]
},
"resolve":{"scale":{"x":"independent","y":"independent"}},
"layer":[
{"encoding":{"x":{"field":"x","type":"quantitative","scale":{"domain":[0,1568],"range":[0,3099],"nice":false,"zero":false},"axis":null},"y":{"field":"y","type":"quantitative","scale":{"domain":[1349.4,0],"range":[2667,0],"nice":false,"zero":false},"axis":null}},
"layer":[
{"data":{"name":"lines"},"mark":{"type":"line","color":"#000000","clip":false},"encoding":{"detail":{"field":"g"},"strokeWidth":{"field":"k","type":"nominal","scale":{"domain":["axis","edge","front","grid","tick"],"range":[3.6,1.6,5,2.2,3]},"legend":null},"strokeDash":{"field":"k","type":"nominal","scale":{"domain":["axis","edge","front","grid","tick"],"range":[[1,0],[1,0],[1,0],[11,8],[1,0]]},"legend":null}}},
{"data":{"name":"surface"},"mark":{"type":"area","opacity":1},"encoding":{"detail":{"field":"b"},"y2":{"field":"yb"},"color":{"field":"level","type":"ordinal","legend":null,"scale":{"domain":[80,80.5,81,81.5,82,82.5,83,83.5,84,84.5,85,85.5,86,86.5,87,87.5,88,88.5,89,89.5,90,90.5,91,91.5,92,92.5,93,93.5,94,94.5,95,95.5,96,96.5,97,97.5,98,98.5,99,99.5,100],"range":["#000000","#770066","#8a0090","#9c00b0","#8800ee","#7700ff","#2a00ff","#0022ff","#0055ff","#0088ff","#00bbff","#00eeff","#00ffcc","#00ff44","#00ff00","#00ff00","#00ff00","#55ff00","#88ff00","#ccff00","#eeff00","#ffee00","#ffd400","#ffaa00","#ff8800","#ff5500","#ff3000","#ff0000","#ff0000","#ff0000","#ff0000","#ff0000","#ff0000","#ff0000","#ff0000","#e60000","#cc0000","#bb0000","#990000","#880000","#660000"]}}}},
{"data":{"name":"ticktext"},"mark":{"type":"text","font":"Open Sans","fontSize":36,"color":"#000000","align":"center","baseline":"middle"},"encoding":{"text":{"field":"t"}}},
{"data":{"name":"ztitles"},"mark":{"type":"text","font":"Open Sans","fontSize":39.5,"color":"#000000","align":"center","baseline":"middle","angle":270},"encoding":{"text":{"field":"t"}}},
{"data":{"name":"xtitles"},"mark":{"type":"text","font":"Open Sans","fontSize":40,"color":"#000000","align":"center","baseline":"middle","angle":12.5},"encoding":{"text":{"field":"t"}}},
{"data":{"name":"captions"},"mark":{"type":"text","font":"Liberation Serif","fontWeight":"bold","fontSize":78,"color":"#000000","align":"center","baseline":"middle"},"encoding":{"text":{"field":"t"}}}
]},
{"layer":[
{"data":{"name":"levels"},"mark":{"type":"rect"},"encoding":{"x":{"datum":0,"type":"quantitative","scale":{"domain":[0,1],"range":[1279,1346],"nice":false,"zero":false},"axis":null},"x2":{"datum":1},"y":{"field":"lo","type":"quantitative","scale":{"domain":[80,100],"range":[686,61],"nice":false,"zero":false},"axis":null},"y2":{"field":"level"},"color":{"field":"level","type":"ordinal","legend":null,"scale":{"domain":[80,80.5,81,81.5,82,82.5,83,83.5,84,84.5,85,85.5,86,86.5,87,87.5,88,88.5,89,89.5,90,90.5,91,91.5,92,92.5,93,93.5,94,94.5,95,95.5,96,96.5,97,97.5,98,98.5,99,99.5,100],"range":["#000000","#770066","#8a0090","#9c00b0","#8800ee","#7700ff","#2a00ff","#0022ff","#0055ff","#0088ff","#00bbff","#00eeff","#00ffcc","#00ff44","#00ff00","#00ff00","#00ff00","#55ff00","#88ff00","#ccff00","#eeff00","#ffee00","#ffd400","#ffaa00","#ff8800","#ff5500","#ff3000","#ff0000","#ff0000","#ff0000","#ff0000","#ff0000","#ff0000","#ff0000","#ff0000","#e60000","#cc0000","#bb0000","#990000","#880000","#660000"]}}}},
{"data":{"name":"barspine"},"mark":{"type":"rule","color":"#000000","strokeWidth":2},"encoding":{"x":{"datum":1,"type":"quantitative","scale":{"domain":[0,1],"range":[1279,1346],"nice":false,"zero":false},"axis":null},"y":{"field":"a","type":"quantitative","scale":{"domain":[80,100],"range":[686,61],"nice":false,"zero":false},"axis":null},"y2":{"field":"b"}}},
{"data":{"name":"barticks"},"mark":{"type":"text","font":"DejaVu Sans","fontSize":24,"color":"#000000","align":"left","baseline":"middle"},"encoding":{"x":{"datum":1.507,"type":"quantitative","scale":{"domain":[0,1],"range":[1279,1346],"nice":false,"zero":false},"axis":null},"y":{"field":"v","type":"quantitative","scale":{"domain":[80,100],"range":[686,61],"nice":false,"zero":false},"axis":null},"text":{"field":"v","type":"quantitative"}}}
]},
{"layer":[
{"data":{"name":"levels"},"mark":{"type":"rect"},"encoding":{"x":{"datum":0,"type":"quantitative","scale":{"domain":[0,1],"range":[2917,2985.7],"nice":false,"zero":false},"axis":null},"x2":{"datum":1},"y":{"field":"lo","type":"quantitative","scale":{"domain":[80,100],"range":[685,51],"nice":false,"zero":false},"axis":null},"y2":{"field":"level"},"color":{"field":"level","type":"ordinal","legend":null,"scale":{"domain":[80,80.5,81,81.5,82,82.5,83,83.5,84,84.5,85,85.5,86,86.5,87,87.5,88,88.5,89,89.5,90,90.5,91,91.5,92,92.5,93,93.5,94,94.5,95,95.5,96,96.5,97,97.5,98,98.5,99,99.5,100],"range":["#000000","#770066","#8a0090","#9c00b0","#8800ee","#7700ff","#2a00ff","#0022ff","#0055ff","#0088ff","#00bbff","#00eeff","#00ffcc","#00ff44","#00ff00","#00ff00","#00ff00","#55ff00","#88ff00","#ccff00","#eeff00","#ffee00","#ffd400","#ffaa00","#ff8800","#ff5500","#ff3000","#ff0000","#ff0000","#ff0000","#ff0000","#ff0000","#ff0000","#ff0000","#ff0000","#e60000","#cc0000","#bb0000","#990000","#880000","#660000"]}}}},
{"data":{"name":"barspine"},"mark":{"type":"rule","color":"#000000","strokeWidth":2},"encoding":{"x":{"datum":1,"type":"quantitative","scale":{"domain":[0,1],"range":[2917,2985.7],"nice":false,"zero":false},"axis":null},"y":{"field":"a","type":"quantitative","scale":{"domain":[80,100],"range":[685,51],"nice":false,"zero":false},"axis":null},"y2":{"field":"b"}}},
{"data":{"name":"barticks"},"mark":{"type":"text","font":"DejaVu Sans","fontSize":24,"color":"#000000","align":"left","baseline":"middle"},"encoding":{"x":{"datum":1.5,"type":"quantitative","scale":{"domain":[0,1],"range":[2917,2985.7],"nice":false,"zero":false},"axis":null},"y":{"field":"v","type":"quantitative","scale":{"domain":[80,100],"range":[685,51],"nice":false,"zero":false},"axis":null},"text":{"field":"v","type":"quantitative"}}}
]},
{"layer":[
{"data":{"name":"levels"},"mark":{"type":"rect"},"encoding":{"x":{"datum":0,"type":"quantitative","scale":{"domain":[0,1],"range":[1291,1359],"nice":false,"zero":false},"axis":null},"x2":{"datum":1},"y":{"field":"lo","type":"quantitative","scale":{"domain":[80,100],"range":[2043,1406],"nice":false,"zero":false},"axis":null},"y2":{"field":"level"},"color":{"field":"level","type":"ordinal","legend":null,"scale":{"domain":[80,80.5,81,81.5,82,82.5,83,83.5,84,84.5,85,85.5,86,86.5,87,87.5,88,88.5,89,89.5,90,90.5,91,91.5,92,92.5,93,93.5,94,94.5,95,95.5,96,96.5,97,97.5,98,98.5,99,99.5,100],"range":["#000000","#770066","#8a0090","#9c00b0","#8800ee","#7700ff","#2a00ff","#0022ff","#0055ff","#0088ff","#00bbff","#00eeff","#00ffcc","#00ff44","#00ff00","#00ff00","#00ff00","#55ff00","#88ff00","#ccff00","#eeff00","#ffee00","#ffd400","#ffaa00","#ff8800","#ff5500","#ff3000","#ff0000","#ff0000","#ff0000","#ff0000","#ff0000","#ff0000","#ff0000","#ff0000","#e60000","#cc0000","#bb0000","#990000","#880000","#660000"]}}}},
{"data":{"name":"barspine"},"mark":{"type":"rule","color":"#000000","strokeWidth":3},"encoding":{"x":{"datum":1,"type":"quantitative","scale":{"domain":[0,1],"range":[1291,1359],"nice":false,"zero":false},"axis":null},"y":{"field":"a","type":"quantitative","scale":{"domain":[80,100],"range":[2043,1406],"nice":false,"zero":false},"axis":null},"y2":{"field":"b"}}},
{"data":{"name":"barticks"},"mark":{"type":"text","font":"DejaVu Sans","fontSize":24,"color":"#000000","align":"left","baseline":"middle"},"encoding":{"x":{"datum":1.515,"type":"quantitative","scale":{"domain":[0,1],"range":[1291,1359],"nice":false,"zero":false},"axis":null},"y":{"field":"v","type":"quantitative","scale":{"domain":[80,100],"range":[2043,1406],"nice":false,"zero":false},"axis":null},"text":{"field":"v","type":"quantitative"}}}
]},
{"layer":[
{"data":{"name":"levels"},"mark":{"type":"rect"},"encoding":{"x":{"datum":0,"type":"quantitative","scale":{"domain":[0,1],"range":[2920,2988],"nice":false,"zero":false},"axis":null},"x2":{"datum":1},"y":{"field":"lo","type":"quantitative","scale":{"domain":[80,100],"range":[2043,1406],"nice":false,"zero":false},"axis":null},"y2":{"field":"level"},"color":{"field":"level","type":"ordinal","legend":null,"scale":{"domain":[80,80.5,81,81.5,82,82.5,83,83.5,84,84.5,85,85.5,86,86.5,87,87.5,88,88.5,89,89.5,90,90.5,91,91.5,92,92.5,93,93.5,94,94.5,95,95.5,96,96.5,97,97.5,98,98.5,99,99.5,100],"range":["#000000","#770066","#8a0090","#9c00b0","#8800ee","#7700ff","#2a00ff","#0022ff","#0055ff","#0088ff","#00bbff","#00eeff","#00ffcc","#00ff44","#00ff00","#00ff00","#00ff00","#55ff00","#88ff00","#ccff00","#eeff00","#ffee00","#ffd400","#ffaa00","#ff8800","#ff5500","#ff3000","#ff0000","#ff0000","#ff0000","#ff0000","#ff0000","#ff0000","#ff0000","#ff0000","#e60000","#cc0000","#bb0000","#990000","#880000","#660000"]}}}},
{"data":{"name":"barspine"},"mark":{"type":"rule","color":"#000000","strokeWidth":3},"encoding":{"x":{"datum":1,"type":"quantitative","scale":{"domain":[0,1],"range":[2920,2988],"nice":false,"zero":false},"axis":null},"y":{"field":"a","type":"quantitative","scale":{"domain":[80,100],"range":[2043,1406],"nice":false,"zero":false},"axis":null},"y2":{"field":"b"}}},
{"data":{"name":"barticks"},"mark":{"type":"text","font":"DejaVu Sans","fontSize":24,"color":"#000000","align":"left","baseline":"middle"},"encoding":{"x":{"datum":1.53,"type":"quantitative","scale":{"domain":[0,1],"range":[2920,2988],"nice":false,"zero":false},"axis":null},"y":{"field":"v","type":"quantitative","scale":{"domain":[80,100],"range":[2043,1406],"nice":false,"zero":false},"axis":null},"text":{"field":"v","type":"quantitative"}}}
]}
]}
